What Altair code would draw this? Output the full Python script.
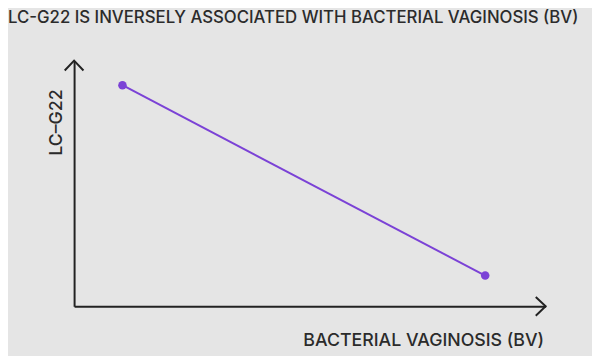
import altair as alt
import pandas as pd

# Data
bv = [1.0, 8.5]          # bacterial vaginosis level (arbitrary units)
lcg22 = [7.2, 1.0]       # LC-G22 level (arbitrary units)

x_max = 9.75
y_max = 8.0

title_text = "LC-G22 IS INVERSELY ASSOCIATED WITH BACTERIAL VAGINOSIS (BV)"
x_title = "BACTERIAL VAGINOSIS (BV)"
y_title = "LC\u2013G22"

FONT = "Inter"
TEXT_COLOR = "#2b2b2b"
AXIS_COLOR = "#222222"
PURPLE = "#7b42d6"
BG = "#e5e5e5"

df = pd.DataFrame({"bv": bv, "lcg22": lcg22})

x_enc = alt.X(
    "bv:Q",
    scale=alt.Scale(domain=[0, x_max], nice=False, zero=True),
    axis=alt.Axis(
        title=x_title, labels=False, ticks=False, grid=False,
        domainColor=AXIS_COLOR, domainWidth=2,
        titleFont=FONT, titleFontSize=18, titleFontWeight=500,
        titleColor=TEXT_COLOR, titleAlign="right", titleBaseline="alphabetic",
        titleX=476, titleY=40,
    ),
)
y_enc = alt.Y(
    "lcg22:Q",
    scale=alt.Scale(domain=[0, y_max], nice=False, zero=True),
    axis=alt.Axis(
        title=y_title, labels=False, ticks=False, grid=False,
        domainColor=AXIS_COLOR, domainWidth=2,
        titleFont=FONT, titleFontSize=18, titleFontWeight=500,
        titleColor=TEXT_COLOR, titleAlign="left", titleBaseline="alphabetic",
        titleAngle=-90, titleX=-13, titleY=96,
    ),
)

line = alt.Chart(df).mark_line(color=PURPLE, strokeWidth=2).encode(x=x_enc, y=y_enc)
pts = alt.Chart(df).mark_circle(color=PURPLE, size=75, opacity=1).encode(x="bv:Q", y="lcg22:Q")

# arrow heads at the ends of the axes
arrow_x = alt.Chart(pd.DataFrame({"bv": [x_max], "lcg22": [0.0]})).mark_point(
    shape="M-1,-0.95L0,0L-1,0.95", size=400, filled=False,
    stroke=AXIS_COLOR, strokeWidth=2, opacity=1,
).encode(x="bv:Q", y="lcg22:Q")
arrow_y = alt.Chart(pd.DataFrame({"bv": [0.0], "lcg22": [y_max]})).mark_point(
    shape="M-0.95,1L0,0L0.95,1", size=400, filled=False,
    stroke=AXIS_COLOR, strokeWidth=2, opacity=1,
).encode(x="bv:Q", y="lcg22:Q")

# chart title as a text mark placed in the top padding
title_mark = alt.Chart(pd.DataFrame({"t": [title_text]})).mark_text(
    font=FONT, fontSize=17, fontWeight=500, color=TEXT_COLOR,
    align="left", baseline="alphabetic",
).encode(x=alt.value(-67), y=alt.value(-38), text="t:N")

chart = (
    alt.layer(line, pts, arrow_x, arrow_y, title_mark)
    .properties(
        width=478, height=249,
        autosize=alt.AutoSizeParams(type="none"),
        padding={"left": 67, "top": 51, "right": 47, "bottom": 48},
        background=BG,
    )
    .configure_view(stroke=None)
)

chart.save("out.html", embed_options={"renderer": "svg", "actions": False})
